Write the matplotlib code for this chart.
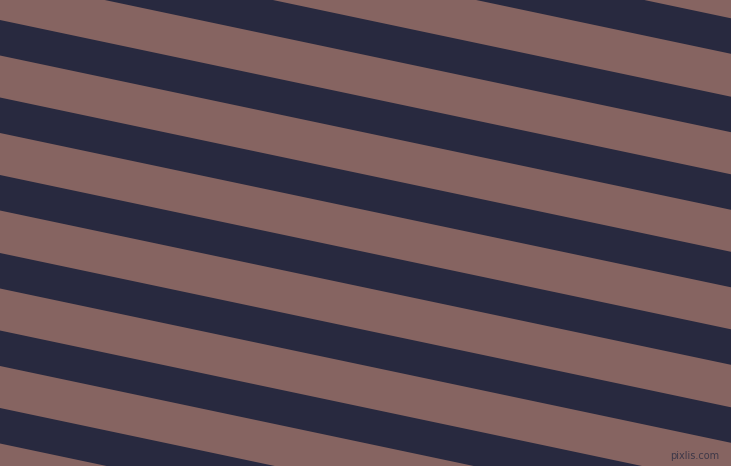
import numpy as np
import matplotlib
matplotlib.use("Agg")
import matplotlib.pyplot as plt

# picture size in pixels
width_px = 731
height_px = 466

# stripe colours
light_color = "#866461"
dark_color = "#28293f"

# top edge of each dark stripe where it meets the left border (pixels from top)
dark_tops_left = [-136, -57.6, 20, 97.5, 175, 253, 330.5, 408]
# how far the stripes drop across the full width
drop_across = 154.3
# vertical thickness of one dark stripe
dark_thickness = 35.5

fig = plt.figure(figsize=(width_px / 100, height_px / 100), dpi=100)
fig.patch.set_facecolor(light_color)
ax = fig.add_axes([0, 0, 1, 1])

x = np.array([0, width_px])
for top in dark_tops_left:
    upper = top + drop_across * x / width_px
    ax.fill_between(x, upper, upper + dark_thickness, color=dark_color, linewidth=0)

ax.text(719, 456, "pixlis.com", fontsize=7, color="#3e3848", ha="right", va="center")

ax.set_xlim(0, width_px)
ax.set_ylim(height_px, 0)
ax.axis("off")

fig.savefig("out.png", dpi=100, facecolor=light_color)
